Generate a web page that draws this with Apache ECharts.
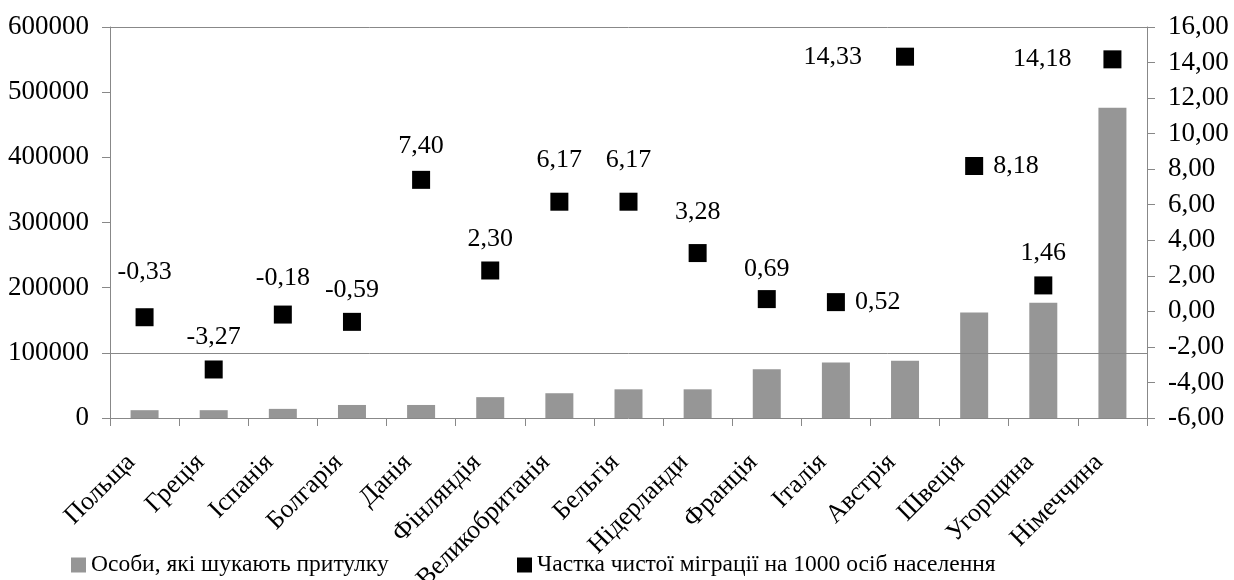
<!DOCTYPE html>
<html>
<head>
<meta charset="utf-8">
<script src="https://cdn.jsdelivr.net/npm/echarts@6/dist/echarts.min.js"></script>
<style>
html,body{margin:0;padding:0;background:#fff;}
#chart{width:1234px;height:580px;}
</style>
</head>
<body>
<div id="chart"></div>
<script>
const categories = ['Польща','Греція','Іспанія','Болгарія','Данія','Фінляндія','Великобританія','Бельгія','Нідерланди','Франція','Італія','Австрія','Швеція','Угорщина','Німеччина'];
const asylumSeekers = [12000, 12000, 14000, 20000, 20000, 32000, 38000, 44000, 44000, 75000, 85000, 88000, 162000, 177000, 476000];
const netMigration = [-0.33, -3.27, -0.18, -0.59, 7.40, 2.30, 6.17, 6.17, 3.28, 0.69, 0.52, 14.33, 8.18, 1.46, 14.18];
const seriesNames = ['Особи, які шукають притулку', 'Частка чистої міграції на 1000 осіб населення'];
const leftTicks = {min: 0, max: 600000, interval: 100000};
const rightTicks = {min: -6, max: 16, interval: 2};

// label placement (style only)
const labelPos = ['top','top','top','top','top','top','top','top','top','top','right','left','right','top','left'];
const labelDist = [23, 10, 14, 10, 12, 9, 20, 20, 19, 8, 10, 34, 10, 10, 32];

const FONT = '"Liberation Serif","Times New Roman",serif';
const chart = echarts.init(document.getElementById('chart'));
const fmtComma = v => v.toFixed(2).replace('.', ',');

chart.setOption({
  backgroundColor: '#fff',
  animation: false,
  textStyle: {fontFamily: FONT, color: '#000'},
  grid: {left: 110, right: 87, top: 27, bottom: 162, containLabel: false, outerBoundsMode: 'none'},
  legend: [
    {data: [seriesNames[0]], left: 66, top: 548, icon: 'rect', itemWidth: 15, itemHeight: 15, itemGap: 4,
     textStyle: {fontFamily: FONT, fontSize: 23.5, color: '#000'}},
    {data: [seriesNames[1]], left: 512, top: 548, icon: 'rect', itemWidth: 15, itemHeight: 15, itemGap: 4,
     textStyle: {fontFamily: FONT, fontSize: 23.5, color: '#000'}}
  ],
  xAxis: {
    type: 'category',
    data: categories,
    boundaryGap: true,
    axisLine: {lineStyle: {color: '#888', width: 1}},
    axisTick: {show: true, length: 8, alignWithLabel: false, lineStyle: {color: '#888'}},
    axisLabel: {rotate: 45, margin: 27, padding: [0, 19, 0, 0], fontFamily: FONT, fontSize: 26, color: '#000', interval: 0, hideOverlap: false}
  },
  yAxis: [
    {
      type: 'value', min: leftTicks.min, max: leftTicks.max, interval: leftTicks.interval,
      axisLine: {show: true, lineStyle: {color: '#888'}},
      axisTick: {show: true, length: 8, lineStyle: {color: '#888'}},
      splitLine: {show: false},
      axisLabel: {fontFamily: FONT, fontSize: 27, color: '#000', margin: 21, formatter: v => String(v)}
    },
    {
      type: 'value', min: rightTicks.min, max: rightTicks.max, interval: rightTicks.interval,
      position: 'right',
      axisLine: {show: true, lineStyle: {color: '#888'}},
      axisTick: {show: true, length: 8, lineStyle: {color: '#888'}},
      splitLine: {show: false},
      axisLabel: {fontFamily: FONT, fontSize: 27, color: '#000', margin: 21, formatter: v => fmtComma(v)}
    }
  ],
  series: [
    {
      name: seriesNames[0],
      type: 'bar',
      yAxisIndex: 0,
      data: asylumSeekers,
      barWidth: 28,
      itemStyle: {color: '#969696'},
      markLine: {
        silent: true, symbol: 'none', label: {show: false},
        lineStyle: {color: '#888', type: 'solid', width: 1},
        data: [{yAxis: 100000}, {yAxis: 600000}]
      }
    },
    {
      name: seriesNames[1],
      type: 'scatter',
      yAxisIndex: 1,
      symbol: 'rect',
      symbolSize: 18,
      itemStyle: {color: '#000', opacity: 1},
      data: netMigration.map((v, i) => ({
        value: v,
        label: {show: true, position: labelPos[i], distance: labelDist[i]}
      })),
      label: {show: true, fontFamily: FONT, fontSize: 26, color: '#000', formatter: p => fmtComma(p.value)}
    }
  ]
});
</script>
</body>
</html>
